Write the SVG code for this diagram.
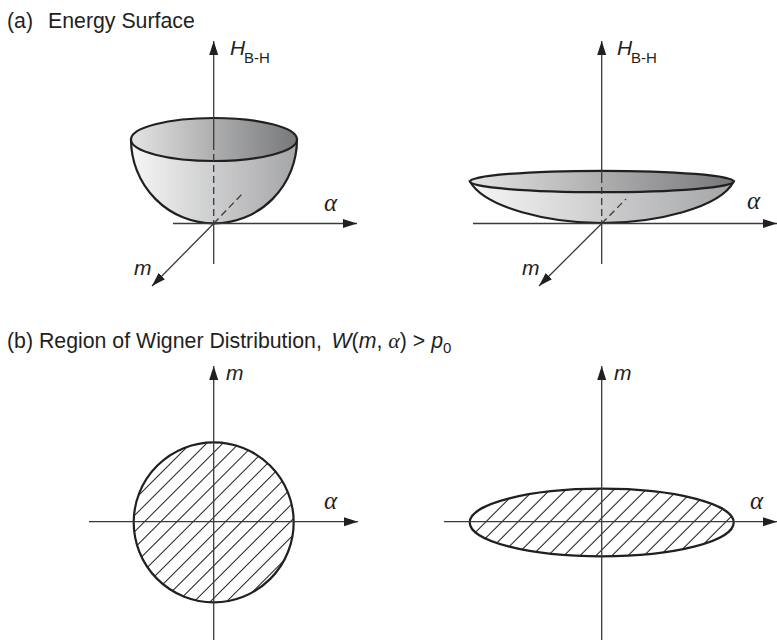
<svg xmlns="http://www.w3.org/2000/svg" width="777" height="641" viewBox="0 0 777 641">
<style>
text{font-family:"Liberation Sans",Arial,sans-serif;fill:#231f20}
.t{font-size:21.3px}
.v{font-size:21px;font-style:italic}
.s{font-size:15px}
.a{font-family:"Liberation Serif","Times New Roman",serif;font-size:25px;font-style:italic}
.ax{fill:none;stroke:#3a3a3a;stroke-width:1.3}
.arr{marker-end:url(#head)}
.d{stroke-dasharray:7 4}
.o{stroke:#231f20;stroke-width:2.2}
.h{fill:none;stroke:#2a2a2a;stroke-width:1.05}
</style>
<defs>
<marker id="head" markerUnits="userSpaceOnUse" markerWidth="15" markerHeight="10" refX="14" refY="5" orient="auto"><path d="M0 .5 L14 5 L0 9.5 Z" fill="#231f20"/></marker>
<linearGradient id="bowl" x1="0" x2="1" y1="0" y2="0"><stop offset="0" stop-color="#f6f6f6"/><stop offset="1" stop-color="#a4a5a7"/></linearGradient>
<linearGradient id="rim" x1="0" x2="1" y1="0" y2="0"><stop offset="0" stop-color="#e4e4e4"/><stop offset="1" stop-color="#77787a"/></linearGradient>
<clipPath id="c1"><circle cx="213.7" cy="522.3" r="80"/></clipPath>
<clipPath id="c2"><ellipse cx="601.7" cy="522.5" rx="132" ry="33.8"/></clipPath>
</defs>
<g id="captions">
<text class="t" x="7" y="28">(a)<tspan x="48">Energy Surface</tspan></text>
<text class="t" x="7" y="348">(b) Region of Wigner Distribution, <tspan x="331.5" font-style="italic">W</tspan>(<tspan font-style="italic">m</tspan>, <tspan font-family="Liberation Serif" font-style="italic" font-size="22">α</tspan>) &gt; <tspan font-style="italic">p</tspan><tspan font-size="15" dy="5">0</tspan></text>
</g>
<g id="deep-bowl">
<path d="M131 139.5 A83 84 0 0 0 297 139.5 Z" fill="url(#bowl)" class="o"/>
<ellipse cx="214" cy="139.5" rx="83" ry="21.5" fill="url(#rim)" class="o"/>
</g>
<g id="shallow-bowl">
<path d="M470 181.5 C485 208 550 223 601.7 223 C655 223 720 208 733.7 181.5 Z" fill="url(#bowl)" class="o"/>
<ellipse cx="601.8" cy="181.5" rx="131.8" ry="10.7" fill="url(#rim)" class="o"/>
</g>
<g id="circle-region">
<g clip-path="url(#c1)"><path class="h" d="M-6 640l240-240M10 640l240-240M26.2 640l240-240M42.4 640l240-240M58.6 640l240-240M74.8 640l240-240M91 640l240-240M107.2 640l240-240M123.4 640l240-240M139.6 640l240-240M155.8 640l240-240M172 640l240-240M188.2 640l240-240M204.4 640l240-240"/></g>
<circle cx="213.7" cy="522.3" r="80" fill="none" class="o"/>
</g>
<g id="ellipse-region">
<g clip-path="url(#c2)"><path class="h" d="M427.7 580l110-110M443.7 580l110-110M459.7 580l110-110M475.7 580l110-110M491.7 580l110-110M507.7 580l110-110M523.7 580l110-110M539.7 580l110-110M555.7 580l110-110M571.7 580l110-110M587.7 580l110-110M603.7 580l110-110M619.7 580l110-110M635.7 580l110-110M651.7 580l110-110M667.7 580l110-110"/></g>
<ellipse cx="601.7" cy="522.5" rx="132" ry="33.8" fill="none" class="o"/>
</g>
<g id="connectors">
<path class="ax arr" d="M213.7 143V41"/>
<path class="ax d" d="M213.7 143V223"/>
<path class="ax" d="M213.7 223V264"/>
<path class="ax arr" d="M173 223.5H357"/>
<path class="ax arr" d="M213.7 223.5L152 286"/>
<path class="ax d" d="M213.7 223.5L243 193"/>
<path class="ax arr" d="M601.7 176V41"/>
<path class="ax d" d="M601.7 176V223"/>
<path class="ax" d="M601.7 223V264"/>
<path class="ax arr" d="M473 223.5H777"/>
<path class="ax arr" d="M601.7 223.5L539 286"/>
<path class="ax d" d="M601.7 223.5L626 199"/>
<path class="ax arr" d="M213.7 640V366"/>
<path class="ax arr" d="M89 521.7H358"/>
<path class="ax arr" d="M601.7 640V366"/>
<path class="ax arr" d="M444 521.7H777"/>
</g>
<g id="labels">
<text class="v" x="230" y="55">H</text><text class="s" x="244" y="63">B-H</text>
<text class="v" x="617" y="55">H</text><text class="s" x="631" y="63">B-H</text>
<text class="a" x="324" y="211">α</text>
<text class="a" x="747" y="209">α</text>
<text class="a" x="324" y="509">α</text>
<text class="a" x="750" y="509">α</text>
<text class="v" x="134" y="275">m</text>
<text class="v" x="522" y="275">m</text>
<text class="v" x="226" y="380">m</text>
<text class="v" x="614" y="380">m</text>
</g>
</svg>
